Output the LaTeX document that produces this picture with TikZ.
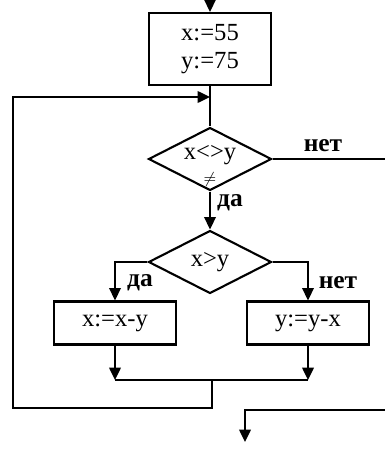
\documentclass[tikz,border=0pt]{standalone}
\usepackage{fontspec}
\setmainfont{Liberation Serif}
\usetikzlibrary{arrows.meta, shapes.geometric}

\begin{document}
\begin{tikzpicture}[x=0.02cm, y=-0.02cm, line width=1.2pt,
	font=\fontsize{14}{15.5}\selectfont,
	blok/.style={draw, rectangle, minimum width=2.44cm, inner sep=0pt, align=center},
	romb/.style={draw, diamond, aspect=2, inner sep=0pt, minimum width=2.46cm, minimum height=1.26cm},
	metka/.style={font=\fontsize{14.5}{16}\selectfont\bfseries},
	strelka/.style={-{Triangle[length=7pt, width=6.5pt]}}]
	\useasboundingbox (0,0) rectangle (385,450);
	\coordinate (vhod) at (210,0);
	\coordinate (tochka) at (210,97);
	\coordinate (sliyanie) at (212,380);
	\coordinate (vyhod) at (245,442);
	\node[blok, minimum height=1.44cm] (nach) at (210,49) {x:=55\\y:=75};
	\node[romb, text depth=7pt] (usl1) at (210,159) {x<>y};
	\node[font=\small] (neravno) at (210,180) {$\neq$};
	\node[romb] (usl2) at (210,262) {x>y};
	\foreach \i/\x/\txt in {1/115/{x:=x-y}, 2/308/{y:=y-x}}{
		\node[blok, minimum height=0.86cm] (deist\i) at (\x,323) {\txt};
	}
	\node[metka] (net1) at (323,146) {нет};
	\node[metka] (da1) at (230,203) {да};
	\node[metka] (da2) at (140,283) {да};
	\node[metka] (net2) at (338,283) {нет};

	\draw[strelka] (vhod) -- (nach.north);
	\draw (nach.south) -- (usl1.north);
	\draw[strelka] (usl1.south) -- (usl2.north);
	\draw[strelka] (usl2.west) -| (deist1.north);
	\draw[strelka] (usl2.east) -| (deist2.north);
	\draw[strelka] (deist1.south) -- (deist1.south |- sliyanie);
	\draw[strelka] (deist2.south) -- (deist2.south |- sliyanie);
	\draw (deist1.south |- sliyanie) -- (deist2.south |- sliyanie);
	\draw[strelka] (sliyanie) -- (212,408) -- (13,408) |- (tochka);
	\draw[strelka] (usl1.east) -- (395,159) -- (395,410) -- (245,410) -- (vyhod);
\end{tikzpicture}
\end{document}
